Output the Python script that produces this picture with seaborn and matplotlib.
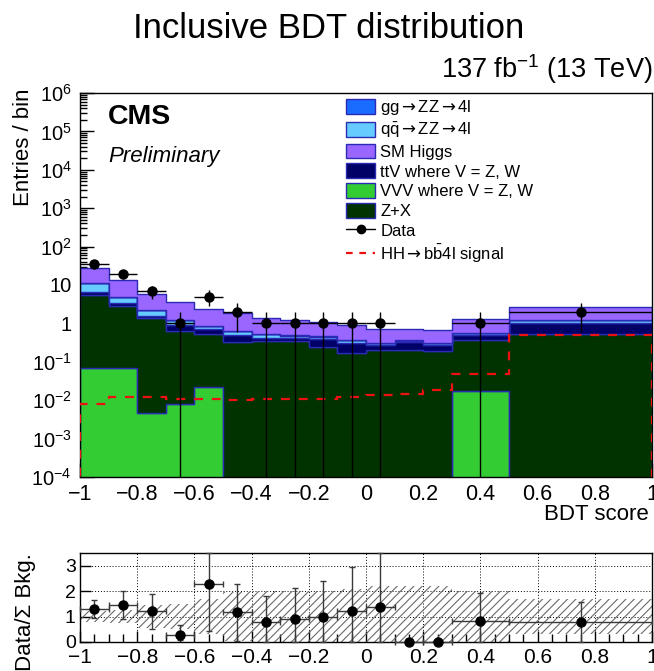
import numpy as np
import pandas as pd
import matplotlib
matplotlib.use("Agg")
import matplotlib.pyplot as plt
from matplotlib.patches import Patch
from matplotlib.lines import Line2D
from matplotlib.ticker import FixedLocator, MultipleLocator, FuncFormatter, LogLocator, NullFormatter
import seaborn as sns

# ---------------------------------------------------------------- data
bin_edges = [-1.0, -0.9, -0.8, -0.7, -0.6, -0.5, -0.4, -0.3, -0.2, -0.1,
             0.0, 0.1, 0.2, 0.3, 0.5, 1.0]

# expected yields per bin for each background process
vvv   = [0.07, 0.07, 0.0046, 0.0081, 0.022, 0, 0, 0, 0, 0, 0, 0, 0, 0.017, 0]
zplusx = [5.53, 2.70, 1.375, 0.62, 0.50, 0.33, 0.35, 0.34, 0.25, 0.17, 0.20, 0.20, 0.19, 0.343, 0.54]
ttv   = [0.90, 0.63, 0.22, 0.26, 0.18, 0.16, 0.06, 0.08, 0.14, 0.13, 0.07, 0.13, 0.09, 0.15, 0.46]
qqzz  = [4.60, 1.45, 0.63, 0.32, 0.15, 0.13, 0.115, 0.06, 0.06, 0.065, 0.035, 0.026, 0.026, 0.052, 0.22]
ggzz  = [0.40, 0.15, 0.07, 0.04, 0.02, 0.02, 0.015, 0.01, 0.01, 0.01, 0.005, 0.004, 0.004, 0.008, 0.03]
higgs = [16.0, 8.2, 3.6, 2.35, 1.43, 1.18, 0.83, 0.73, 0.64, 0.515, 0.42, 0.37, 0.37, 0.70, 1.41]

hh_signal = [0.0078, 0.012, 0.012, 0.011, 0.0107, 0.010, 0.0105, 0.0107, 0.011,
             0.0123, 0.0139, 0.0147, 0.018, 0.047, 0.49]

data_counts = [36, 19, 7, 1, 5, 2, 1, 1, 1, 1, 1, 0, 0, 1, 2]

# ratio panel: data / total background with its error bar limits
ratio      = [1.30, 1.46, 1.22, 0.29, 2.28, 1.17, 0.78, 0.91, 0.97, 1.20, 1.39, 0.0, 0.0, 0.82, 0.80]
ratio_low  = [0.96, 0.90, 0.53, 0.07, 0.42, 0.03, 0.0, 0.0, 0.0, 0.0, 0.0, 0.0, 0.0, 0.0, 0.0]
ratio_high = [1.64, 2.00, 1.90, 0.66, 3.50, 2.30, 1.81, 2.12, 2.38, 2.95, 3.50, 0.0, 0.0, 1.94, 1.56]

# background uncertainty band in the ratio panel
band_low  = [0.80, 0.75, 0.55, 0.50, 0.30, 0.05, 0.0, 0.0, 0.0, 0.0, 0.0, 0.0, 0.0, 0.0, 0.30]
band_high = [1.20, 1.25, 1.45, 1.50, 1.70, 1.95, 2.0, 2.0, 2.0, 2.1, 2.2, 2.2, 2.2, 2.0, 1.70]

ARROW = r"$\mathsf{\rightarrow}$"
process_labels = {
    "ggzz": "gg" + ARROW + "ZZ" + ARROW + "4l",
    "qqzz": r"q$\mathregular{\bar{q}}$" + ARROW + "ZZ" + ARROW + "4l",
    "higgs": "SM Higgs",
    "ttv": "ttV where V = Z, W",
    "vvv": "VVV where V = Z, W",
    "zx": "Z+X",
}
process_colors = {
    "ggzz": "#1a6bff",
    "qqzz": "#66ccff",
    "higgs": "#9966ff",
    "ttv": "#000066",
    "vvv": "#33cc33",
    "zx": "#003300",
}
outline = "#2a2ab4"

# ---------------------------------------------------------------- style
sns.set_theme(style="ticks")
plt.rcParams["font.family"] = ["Liberation Sans", "DejaVu Sans"]
plt.rcParams["mathtext.fontset"] = "custom"
plt.rcParams["mathtext.rm"] = "Liberation Sans"
plt.rcParams["mathtext.it"] = "Liberation Sans:italic"
plt.rcParams["mathtext.bf"] = "Liberation Sans:bold"
plt.rcParams["mathtext.sf"] = "DejaVu Sans"
for key in ["text.color", "axes.labelcolor", "xtick.color", "ytick.color", "axes.edgecolor"]:
    plt.rcParams[key] = "black"
plt.rcParams["axes.linewidth"] = 1.0
plt.rcParams["hatch.linewidth"] = 0.8
plt.rcParams["hatch.color"] = "#6a6a6a"

edges = np.array(bin_edges)
centers = 0.5 * (edges[:-1] + edges[1:])
half_w = 0.5 * np.diff(edges)

# long-form table for the stacked histogram (first hue level ends on top)
stack_order = ["higgs", "ggzz", "qqzz", "ttv", "zx", "vvv"]
yields = {"higgs": higgs, "ggzz": ggzz, "qqzz": qqzz, "ttv": ttv, "zx": zplusx, "vvv": vvv}
rows = []
for proc in stack_order:
    for c, w in zip(centers, yields[proc]):
        rows.append({"bdt": c, "weight": w, "process": proc})
df = pd.DataFrame(rows)

W, H = 654, 671
fig = plt.figure(figsize=(W / 100, H / 100), dpi=100)

def box(x0, y0, x1, y1):
    return [x0 / W, 1 - y1 / H, (x1 - x0) / W, (y1 - y0) / H]

ax = fig.add_axes(box(80, 93, 652, 477))
rax = fig.add_axes(box(80, 553, 652, 642))

# ---------------------------------------------------------------- main panel
ax.set_yscale("log")
sns.histplot(data=df, x="bdt", weights="weight", hue="process", hue_order=stack_order,
             palette=process_colors, bins=list(bin_edges), multiple="stack", element="step",
             fill=True, alpha=1.0, edgecolor=outline, linewidth=1.0, legend=False, ax=ax)

ax.stairs(hh_signal, edges, color="#ee1111", linestyle=(0, (4, 4)), linewidth=1.6, zorder=4)

dc = np.array(data_counts, dtype=float)
shown = dc > 0
ax.errorbar(centers[shown], dc[shown], xerr=half_w[shown], yerr=np.sqrt(dc[shown]),
            fmt="o", color="black", ms=6.5, elinewidth=1.0, capsize=0, zorder=5)

ax.set_xlim(-1, 1)
ax.set_ylim(1e-4, 1e6)
ax.set_xlabel("")
ax.set_ylabel("")

def log_label(v, _):
    e = int(round(np.log10(v)))
    if e == 0:
        return "1"
    if e == 1:
        return "10"
    return r"$\mathregular{10^{%d}}$" % e

def x_label(v, _):
    if abs(v) < 1e-9:
        return "0"
    if abs(v - round(v)) < 1e-9:
        s = "%d" % round(v)
    else:
        s = "%.1f" % v
    return s.replace("-", "\u2212")

ax.yaxis.set_major_locator(FixedLocator([10.0 ** k for k in range(-4, 7)]))
ax.yaxis.set_major_formatter(FuncFormatter(log_label))
ax.yaxis.set_minor_locator(LogLocator(base=10, subs=np.arange(2, 10), numticks=30))
ax.yaxis.set_minor_formatter(NullFormatter())
ax.xaxis.set_major_locator(MultipleLocator(0.2))
ax.xaxis.set_minor_locator(MultipleLocator(0.05))
ax.xaxis.set_major_formatter(FuncFormatter(x_label))
ax.tick_params(which="both", direction="in", top=False, right=False, color="black", width=1.0)
ax.tick_params(which="major", length=10, pad=5)
ax.tick_params(which="minor", length=5)
ax.tick_params(axis="x", which="major", labelsize=15.5)
ax.tick_params(axis="y", which="major", labelsize=14.5, pad=6)

# legend
handles = [Patch(facecolor=process_colors[p], edgecolor=outline, linewidth=1.0)
           for p in ["ggzz", "qqzz", "higgs", "ttv", "vvv", "zx"]]
labels = [process_labels[p] for p in ["ggzz", "qqzz", "higgs", "ttv", "vvv", "zx"]]
handles.append(Line2D([0], [0], color="black", marker="o", ms=6, lw=1.0))
labels.append("Data")
handles.append(Line2D([0], [0], color="#ee1111", ls=(0, (3, 3)), lw=1.6))
labels.append(r"HH" + ARROW + r"b$\mathregular{\bar{b}}$4l signal")
ax.legend(handles, labels, loc="upper left", bbox_to_anchor=(0.448, 1.013), frameon=False,
          fontsize=12, handlelength=1.75, handleheight=1.0, labelspacing=0.22,
          handletextpad=0.3, borderaxespad=0.2)

# ---------------------------------------------------------------- ratio panel
rax.stairs(band_high, edges, baseline=band_low, fill=True, facecolor="none",
           edgecolor="#6a6a6a", linewidth=0, hatch="////", zorder=1)
r = np.array(ratio)
rax.errorbar(centers, r, xerr=half_w,
             yerr=[r - np.array(ratio_low), np.array(ratio_high) - r],
             fmt="o", color="black", ecolor="#3a3a3a", ms=6.5, elinewidth=1.0,
             capsize=2, capthick=1.0, zorder=5, clip_on=False)
rax.set_xlim(-1, 1)
rax.set_ylim(0, 3.5)
rax.xaxis.set_major_locator(MultipleLocator(0.2))
rax.xaxis.set_minor_locator(MultipleLocator(0.05))
rax.xaxis.set_major_formatter(FuncFormatter(x_label))
rax.yaxis.set_major_locator(FixedLocator([0, 1, 2, 3]))
rax.grid(True, which="major", color="black", linestyle=(0, (1, 2)), linewidth=0.7)
rax.tick_params(which="both", direction="in", top=False, right=False, color="black", width=1.0)
rax.tick_params(which="major", length=8)
rax.tick_params(which="minor", length=6)
rax.tick_params(axis="x", labelsize=15, pad=4.5)
rax.tick_params(axis="y", labelsize=14, pad=3)

# ---------------------------------------------------------------- text
fig.text(329 / W, 1 - 12 / H, "Inclusive BDT distribution", ha="center", va="top", fontsize=25)
fig.text(652 / W, 1 - 52 / H, r"137 fb$^{\mathregular{-1}}$ (13 TeV)", ha="right", va="top", fontsize=19.5)
fig.text(108 / W, 1 - 104 / H, "CMS", ha="left", va="top", fontsize=20.5, fontweight="bold")
fig.text(108 / W, 1 - 146 / H, "Preliminary", ha="left", va="top", fontsize=16, fontstyle="italic")
fig.text(24 / W, 1 - 89 / H, "Entries / bin", rotation=90, ha="center", va="top", fontsize=16)
fig.text(649 / W, 1 - 504 / H, "BDT score", ha="right", va="top", fontsize=16)
fig.text(26 / W, 1 - 553 / H, "Data/Σ Bkg.", rotation=90, ha="center", va="top", fontsize=16)

fig.savefig("out.png", dpi=100)
